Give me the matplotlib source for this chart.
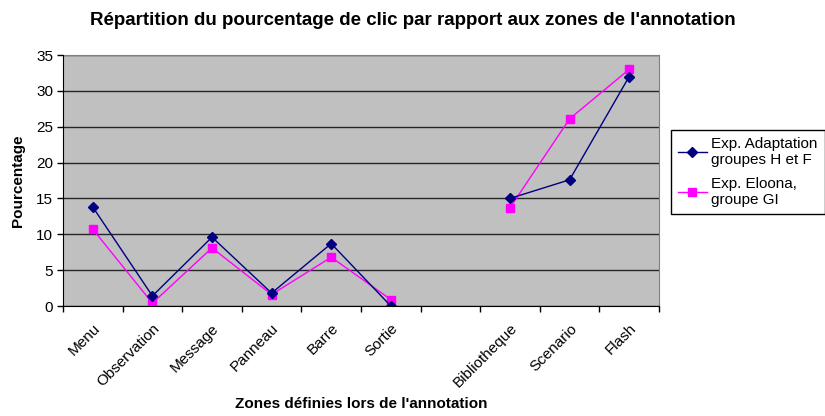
import matplotlib
matplotlib.use('Agg')
import matplotlib.pyplot as plt
import numpy as np

plt.rcParams['font.family'] = ['Liberation Sans', 'DejaVu Sans']

# --- Data (percent of clicks per annotation zone) ---
zones = ['Menu', 'Observation', 'Message', 'Panneau', 'Barre', 'Sortie',
         '', 'Bibliotheque', 'Scenario', 'Flash']
adaptation = [13.8, 1.4, 9.6, 1.8, 8.7, 0.0, np.nan, 15.0, 17.6, 32.0]
eloona = [10.7, 0.4, 8.1, 1.6, 6.8, 0.9, np.nan, 13.7, 26.1, 33.0]

fig = plt.figure(figsize=(8.25, 4.16), dpi=100)
ax = fig.add_axes([63 / 825, 1 - 306 / 416, 596 / 825, 251 / 416])
ax.set_facecolor('#C0C0C0')

x = np.arange(len(zones))
ax.plot(x[:6], adaptation[:6], color='#000080', marker='D', markersize=5,
        linewidth=1, label='Exp. Adaptation\ngroupes H et F', zorder=4)
ax.plot(x[7:], adaptation[7:], color='#000080', marker='D', markersize=5,
        linewidth=1, zorder=4)
ax.plot(x[:6], eloona[:6], color='#FF00FF', marker='s', markersize=6,
        linewidth=1, label='Exp. Eloona,\ngroupe GI', zorder=3)
ax.plot(x[7:], eloona[7:], color='#FF00FF', marker='s', markersize=6,
        linewidth=1, zorder=3)

ax.set_xlim(-0.5, len(zones) - 0.5)
ax.set_ylim(0, 35)
ax.set_yticks(np.arange(0, 36, 5))
ax.tick_params(axis='y', labelsize=11, direction='out', length=4, width=1, pad=3)

# tick marks between categories, labels at category centres
ax.set_xticks(np.arange(-0.5, len(zones), 1.0))
ax.set_xticklabels([])
ax.set_xticks(x, minor=True)
ax.set_xticklabels(zones, minor=True, rotation=45, ha='right',
                   rotation_mode='anchor', fontsize=11)
ax.tick_params(axis='x', which='major', direction='out', length=4, width=1)
ax.tick_params(axis='x', which='minor', length=0, pad=11)

ax.yaxis.grid(True, color='#000000', linewidth=1, alpha=0.8)
ax.set_axisbelow(True)
for side in ['top', 'right']:
    ax.spines[side].set_color('#808080')
for side in ['left', 'bottom']:
    ax.spines[side].set_color('#000000')
    ax.spines[side].set_zorder(5)

ax.set_ylabel('Pourcentage', fontsize=11, fontweight='bold', labelpad=8)
ax.set_xlabel("Zones définies lors de l'annotation", fontsize=11,
              fontweight='bold', labelpad=5)
fig.suptitle("Répartition du pourcentage de clic par rapport aux zones de l'annotation",
             x=0.5, y=0.97, fontsize=13.5, fontweight='bold')

leg = ax.legend(loc='center left', bbox_to_anchor=(671 / 825, 1 - 172 / 416),
                bbox_transform=fig.transFigure, fontsize=11, frameon=True,
                fancybox=False, edgecolor='#000000', framealpha=1,
                handlelength=1.9, borderpad=0.45, labelspacing=0.6,
                handletextpad=0.3, borderaxespad=0)
leg.get_frame().set_linewidth(1)

plt.savefig('out.png', dpi=100)
